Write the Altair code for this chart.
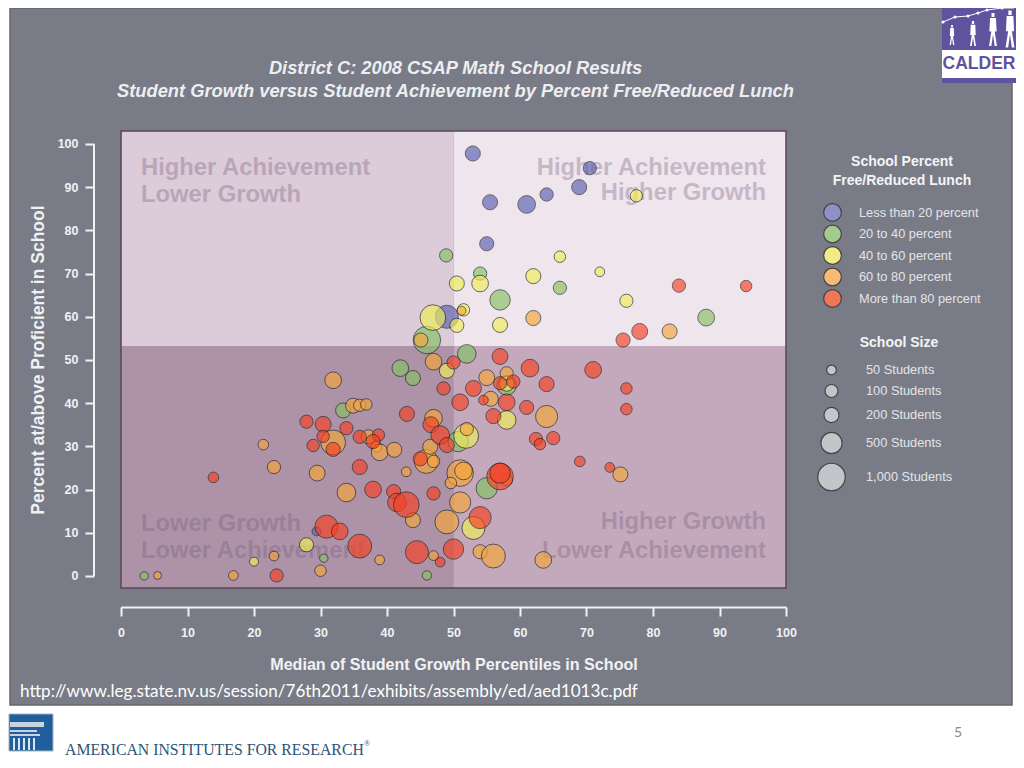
import altair as alt
import pandas as pd

GROUPS = ["Less than 20 percent", "20 to 40 percent", "40 to 60 percent", "60 to 80 percent", "More than 80 percent"]
FILLS = ["#5a5fb4", "#85c163", "#f0ef57", "#f7a639", "#f74021"]
KEY_FILLS = ["#8f90c8", "#a3cc8c", "#f2ea84", "#f5bb72", "#ef7755"]

SIZE_STEPS = [50, 100, 200, 500, 1000]
SIZE_AREAS = [95, 170, 227, 452, 755]

blue_x = [52.9, 70.5, 68.9, 64, 61, 55.5, 55, 49, 29.4]
blue_y = [97.8, 94.4, 90, 88.3, 86, 86.5, 76.9, 60, 10.3]
blue_n = [200, 110, 200, 110, 315, 200, 153, 630, 41]

green_x = [48.9, 54, 66, 57, 88, 46, 52, 42, 43.9, 33.4, 50.7, 58, 55, 30.5, 3.5, 46]
green_y = [74.2, 70, 66.7, 63.9, 59.8, 54.6, 51.4, 48.1, 45.8, 38.3, 31.1, 44.1, 20.3, 4.1, 0, 0.1]
green_n = [110, 110, 110, 450, 270, 1000, 360, 270, 200, 200, 450, 407, 500, 34, 34, 45]

yellow_x = [77.5, 66, 72, 54, 50.5, 62, 76, 51.5, 46.9, 50.5, 57, 49, 58, 58, 51.9, 53, 27.9, 20]
yellow_y = [88, 73.9, 70.4, 67.7, 67.7, 69.4, 63.7, 61.6, 59.8, 58, 58.1, 47.5, 36.1, 44.5, 32.4, 11.1, 7.2, 3.3]
yellow_n = [89, 75, 50, 270, 200, 200, 110, 89, 842, 153, 200, 200, 360, 200, 770, 630, 153, 41]

orange_x = [51.2, 62, 82.5, 45.1, 47, 31.9, 34.9, 35.9, 36.9, 31.9, 37.2, 38.4, 38.9, 41.1, 21.4, 23, 29.5, 33.9,
            43.9, 42.9, 45.9, 47, 46.5, 47, 55, 58, 55.6, 64, 75.1, 52, 51, 51.5, 49.6, 51, 58, 49, 54, 56, 63.5,
            38.9, 23, 30, 16.9, 5.5, 47]
orange_y = [61.4, 59.7, 56.6, 54.6, 49.6, 45.3, 39.4, 39.5, 39.7, 30.9, 32.2, 29.9, 28.6, 29.2, 30.4, 25.2, 23.8, 19.3,
            12.9, 24.1, 26.5, 26.5, 29.9, 36.5, 45.9, 46.9, 41, 36.9, 23.5, 34, 23.8, 24.3, 21.5, 17, 22.2, 12.5, 5.6, 4.6, 3.7,
            3.7, 4.6, 1.2, 0.1, 0.1, 4.7]
orange_n = [41, 200, 200, 153, 270, 270, 200, 89, 75, 770, 153, 62, 270, 200, 62, 110, 235, 360,
            200, 50, 698, 89, 200, 315, 235, 110, 200, 563, 200, 110, 921, 315, 75, 500, 75, 698, 153, 698, 270,
            50, 50, 75, 50, 28, 50]

red_x = [83.9, 94, 78, 75.5, 50, 57, 61.5, 64, 71, 76, 76, 59, 57, 53, 51, 54.5, 58, 61, 56, 62.4, 63, 65, 69, 73.5,
         27.9, 30.4, 33.9, 28.9, 31.9, 30.4, 35.9, 38.7, 37.9, 13.9, 35.9, 37.9, 41, 41.5, 42.9, 47, 43, 45, 46.6, 48, 49,
         48.5, 30.9, 32.9, 35.9, 23.4, 44.5, 48, 50, 54, 57, 57]
red_y = [67.2, 67.1, 56.6, 54.6, 49.4, 50.8, 48.1, 44.4, 47.7, 43.4, 38.6, 45, 44.6, 43.4, 40.2, 40.7, 40.2, 39, 37, 31.7, 30.5, 31.9, 26.5, 25.1,
         35.7, 35.1, 34.2, 30.2, 29.3, 32.3, 32.2, 32.6, 31.1, 22.8, 25.2, 20, 19.5, 17, 16.5, 19.1, 37.5, 27.1, 35, 32.6, 30.3,
         43.4, 11.4, 10.3, 6.9, 0.1, 5.5, 3.2, 6.2, 13.5, 23, 23.8]
red_n = [110, 75, 235, 153, 110, 235, 315, 200, 270, 75, 75, 110, 110, 235, 270, 50, 270, 153, 200, 110, 75, 110, 62, 50,
         110, 235, 110, 89, 153, 89, 110, 89, 153, 62, 200, 270, 153, 360, 842, 110, 200, 153, 235, 360, 200,
         110, 630, 270, 698, 110, 630, 50, 450, 563, 921, 450]

rows = []
for g, xs, ys, ns in zip(GROUPS,
                         [blue_x, green_x, yellow_x, orange_x, red_x],
                         [blue_y, green_y, yellow_y, orange_y, red_y],
                         [blue_n, green_n, yellow_n, orange_n, red_n]):
    for a, b, c in zip(xs, ys, ns):
        rows.append({"growth": a, "proficient": b, "students": c, "lunch": g})
schools = pd.DataFrame(rows)

quad_x0 = [0, 50, 0, 50]
quad_x1 = [50, 100, 50, 100]
quad_y0 = [53.2, 53.2, -2.8, -2.8]
quad_y1 = [103, 103, 53.2, 53.2]
quad_fill = ["#dccbd8", "#efe5ed", "#ae93a8", "#c4a9bc"]
quads = pd.DataFrame({"x0": quad_x0, "x1": quad_x1, "y0": quad_y0, "y1": quad_y1, "fill": quad_fill})

note_text = ["Higher Achievement", "Lower Growth", "Lower Growth", "Lower Achievement"]
note_x = [3, 3, 3, 3]
note_y = [94.4, 88.2, 12, 5.8]
note_r_text = ["Higher Achievement", "Higher Growth", "Higher Growth", "Lower Achievement"]
note_r_x = [97, 97, 97, 97]
note_r_y = [94.4, 88.6, 12.5, 5.8]

TICKS = list(range(0, 101, 10))
AX = "#f1f1f4"
FONT = "Liberation Sans"
PLOT_W, PLOT_H = 665, 457
LEFT, TOP = 121, 131  # page position of the plot area


def px(v):
    return alt.value(v - LEFT)


def py(v):
    return alt.value(v - TOP)


x_scale = alt.Scale(domain=[0, 100], nice=False, zero=False)
y_scale = alt.Scale(domain=[-2.8, 103], nice=False, zero=False)
x_axis = alt.Axis(values=TICKS, grid=False, offset=19, tickSize=9, tickWidth=2, tickColor=AX, domainColor=AX,
                  domainWidth=2, labelColor=AX, labelFont=FONT, labelFontWeight="bold", labelFontSize=12.5,
                  labelPadding=10, title="Median of Student Growth Percentiles in School", titleColor=AX,
                  titleFont=FONT, titleFontSize=16.1, titleFontWeight="bold", titlePadding=18, zindex=2,
                  labelFlush=False, format="d")
y_axis = alt.Axis(values=TICKS, grid=False, offset=27, tickSize=9, tickWidth=2, tickColor=AX, domain=False,
                  labelColor=AX, labelFont=FONT, labelFontWeight="bold", labelFontSize=12.5, labelPadding=7,
                  title="Percent at/above Proficient in School", titleColor=AX, titleFont=FONT, titleFontSize=17.5,
                  titleFontWeight="bold", titlePadding=10, zindex=2, labelFlush=False, format="d")

layers = []


def deco_rect(x0, x1, y0, y1, **kw):
    return alt.Chart(pd.DataFrame({"k": [0]})).mark_rect(**kw).encode(x=px(x0), x2=px(x1), y=py(y0), y2=py(y1))


def deco_text(label, x, y, **kw):
    return alt.Chart(pd.DataFrame({"k": [0]})).mark_text(text=label, **kw).encode(x=px(x), y=py(y))


# slide panel
layers.append(deco_rect(10, 1012, 8, 705, fill="#797c86", stroke="#65666c", strokeWidth=1.5))

# CALDER logo
PURPLE = "#5f539f"
layers.append(deco_rect(942, 1016, 8, 83, fill=PURPLE))
layers.append(deco_rect(942, 1016, 50, 78, fill="#ffffff"))
layers.append(deco_text("CALDER", 979, 64, font=FONT, fontWeight="bold", fontSize=17.5,
                        fill=PURPLE, align="center", baseline="middle"))
PERSON = ("M-0.09,-1 L0.09,-1 L0.09,-0.76 L-0.09,-0.76 Z M-0.18,-0.7 L0.18,-0.7 L0.22,0.12 L0.1,0.12 L0.24,1 "
          "L0.1,1 L0,0.3 L-0.1,1 L-0.24,1 L-0.1,0.12 L-0.22,0.12 Z")
for cx, cy, s in [(952, 35, 400), (973, 33.5, 625), (993, 29.5, 1089), (1010, 29, 1369)]:
    layers.append(alt.Chart(pd.DataFrame({"k": [0]})).mark_point(shape=PERSON, filled=True, fill="#ffffff", size=s,
                  opacity=1, strokeWidth=0).encode(x=px(cx), y=py(cy)))
chain = [(943, 22), (955, 17), (968, 16), (978, 13), (987, 10), (1002, 8), (1014, 8)]
for (a, b), (c, d) in zip(chain[:-1], chain[1:]):
    layers.append(alt.Chart(pd.DataFrame({"k": [0]})).mark_rule(stroke="#ffffff", strokeWidth=1).encode(
        x=px(a), x2=px(c), y=py(b), y2=py(d)))
    layers.append(alt.Chart(pd.DataFrame({"k": [0]})).mark_point(filled=True, fill="#ffffff", size=10, opacity=1).encode(
        x=px(a), y=py(b)))

# AIR logo
layers.append(deco_rect(9, 53, 714, 751, fill="#1f5f9d", stroke="#a9b2bb", strokeWidth=1))
layers.append(deco_rect(10, 44, 722, 727, fill="#c7d4e0"))
layers.append(deco_rect(10, 37, 730, 732, fill="#c7d4e0"))
layers.append(deco_rect(10, 40, 734, 736, fill="#c7d4e0"))
for cx in [13, 18, 23, 28, 33]:
    layers.append(deco_rect(cx, cx + 2, 738, 750, fill="#dbe4ec"))
layers.append(deco_text("AMERICAN INSTITUTES FOR RESEARCH", 65, 750, font="Liberation Serif", fontSize=15.8,
                        fill="#2a5577", align="left", baseline="middle"))
layers.append(deco_text("®", 364, 744, font="Liberation Serif", fontSize=8, fill="#2a5577", align="left",
                        baseline="middle"))
layers.append(deco_text("5", 958, 733, font="Lato", fontSize=14, fill="#8a8a8a", align="center", baseline="middle"))
layers.append(deco_text("http://www.leg.state.nv.us/session/76th2011/exhibits/assembly/ed/aed1013c.pdf", 20, 692,
                        font="Lato", fontSize=17.1, fill="#ffffff", align="left", baseline="middle"))
layers.append(deco_text("School Size", 899, 343, font=FONT, fontWeight="bold", fontSize=14, fill="#f4f4f6",
                        align="center", baseline="middle"))

# y-axis line, running from the first tick to the last one only
layers.append(alt.Chart(pd.DataFrame({"a": [TICKS[0]], "b": [TICKS[-1]]})).mark_rule(stroke=AX, strokeWidth=2).encode(
    x=alt.value(-27),
    y=alt.Y("a:Q", scale=y_scale, axis=y_axis),
    y2="b:Q",
))

# quadrants
layers.append(alt.Chart(quads).mark_rect().encode(
    x=alt.X("x0:Q", scale=x_scale, axis=x_axis),
    x2="x1:Q",
    y=alt.Y("y0:Q", scale=y_scale, axis=y_axis),
    y2="y1:Q",
    fill=alt.Fill("fill:N", scale=None),
))
layers.append(alt.Chart(pd.DataFrame({"k": [0]})).mark_rect(fillOpacity=0, stroke="#5b4557", strokeWidth=1.5).encode(
    x=alt.value(0), x2=alt.value(PLOT_W), y=alt.value(0), y2=alt.value(PLOT_H)))

# quadrant notes
NOTE = dict(font=FONT, fontWeight="bold", fontSize=23.8, fill="#6f5a78", opacity=0.32, baseline="middle")
layers.append(alt.Chart(pd.DataFrame({"t": note_text, "x": note_x, "y": note_y})).mark_text(align="left", **NOTE).encode(
    x=alt.X("x:Q", scale=x_scale, axis=x_axis), y=alt.Y("y:Q", scale=y_scale, axis=y_axis), text="t:N"))
layers.append(alt.Chart(pd.DataFrame({"t": note_r_text, "x": note_r_x, "y": note_r_y})).mark_text(align="right", **NOTE).encode(
    x=alt.X("x:Q", scale=x_scale, axis=x_axis), y=alt.Y("y:Q", scale=y_scale, axis=y_axis), text="t:N"))

# schools
LEG = dict(orient="none", padding=0, titleColor="#f4f4f6", titleFont=FONT, titleFontSize=14, titleFontWeight="bold",
           titleAlign="center", titleAnchor="middle", labelColor="#e4e4e8", labelFont=FONT, labelFontSize=12.8,
           symbolType="circle", symbolStrokeColor="#444444", symbolStrokeWidth=1.2, titleLineHeight=19)
size_scale = alt.Scale(domain=SIZE_STEPS, range=SIZE_AREAS, zero=False)
layers.append(alt.Chart(schools).mark_circle(opacity=0.65, stroke="#202020", strokeWidth=1).encode(
    x=alt.X("growth:Q", scale=x_scale, axis=x_axis),
    y=alt.Y("proficient:Q", scale=y_scale, axis=y_axis),
    color=alt.Color("lunch:N", scale=alt.Scale(domain=GROUPS, range=FILLS), legend=None),
    size=alt.Size("students:Q", scale=size_scale, legend=alt.Legend(
        title=None, legendX=696, legendY=232.5, values=SIZE_STEPS,
        rowPadding=4, labelOffset=20, symbolFillColor="#c4c5ca", symbolOpacity=1,
        labelExpr="format(datum.value, ',') + ' Students'", **LEG)),
))
# an invisible twin of the schools layer carries the colour key
layers.append(alt.Chart(schools).mark_circle(opacity=0).encode(
    x=alt.X("growth:Q", scale=x_scale, axis=x_axis),
    y=alt.Y("proficient:Q", scale=y_scale, axis=y_axis),
    color=alt.Color("lunch:N", scale=alt.Scale(domain=GROUPS, range=KEY_FILLS), legend=alt.Legend(
        title=["School Percent", "Free/Reduced Lunch"], legendX=702, legendY=23.5, symbolSize=314, symbolOpacity=1,
        rowPadding=-1.5, labelOffset=17, titlePadding=15.5, **LEG)),
))

chart = alt.layer(*layers).properties(
    width=PLOT_W,
    height=PLOT_H,
    padding={"left": LEFT - 8, "top": TOP - 8, "right": 1008 - (LEFT - 8) - PLOT_W, "bottom": 752 - (TOP - 8) - PLOT_H},
    autosize=alt.AutoSizeParams(type="none"),
    background="#ffffff",
    title=alt.TitleParams(
        text=["District C: 2008 CSAP Math School Results", "Student Growth versus Student Achievement by Percent Free/Reduced Lunch"],
        font=FONT, fontSize=18.3, fontStyle="italic", fontWeight="bold", color="#eeeef2", lineHeight=23,
        anchor="middle", frame="group", offset=0, dy=95, dx=2, zindex=2),
).configure_view(stroke=None).resolve_scale(x="shared", y="shared", color="independent")

chart.save("out.html", embed_options={"renderer": "svg", "actions": False})
